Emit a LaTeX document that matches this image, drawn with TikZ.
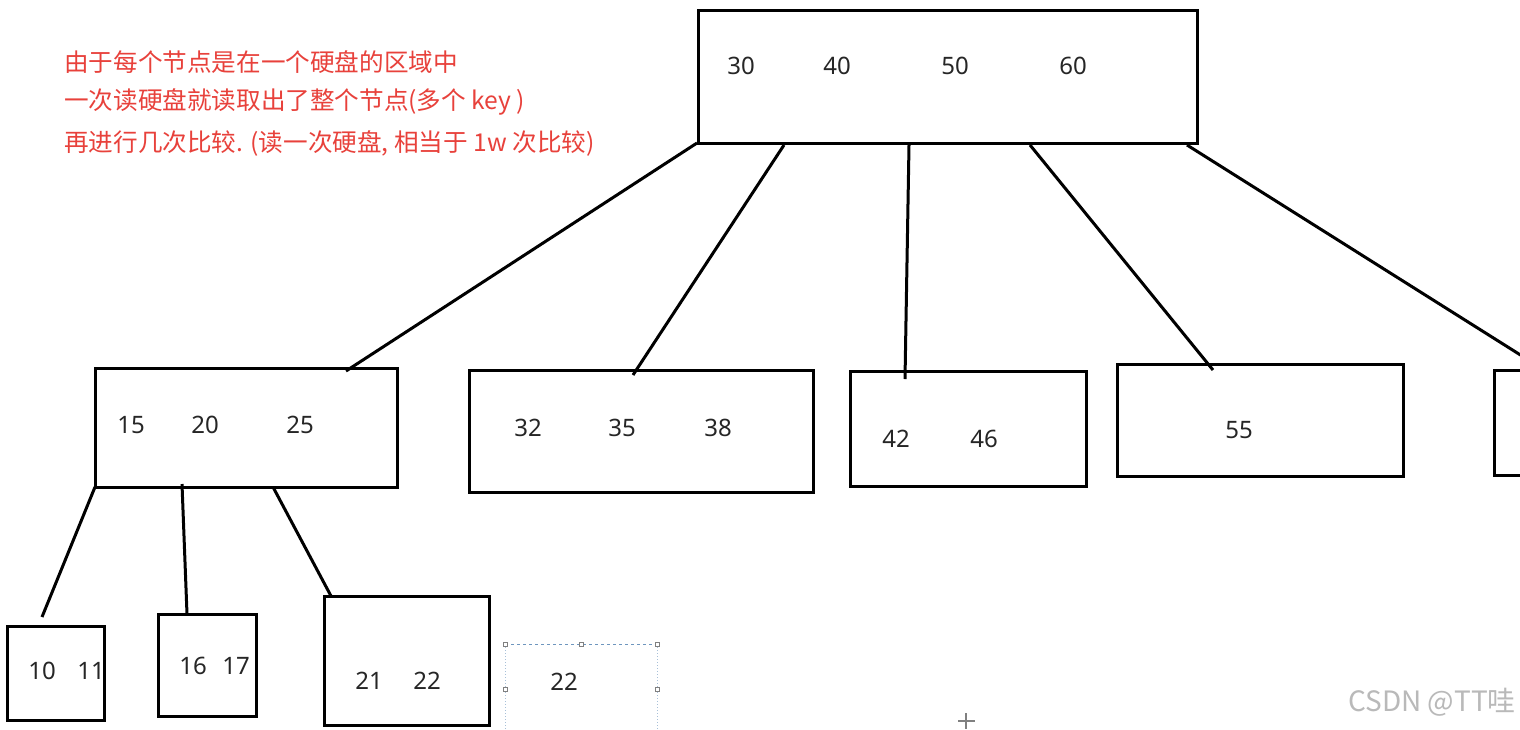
\documentclass[tikz,border=0pt]{standalone}
\usepackage{fontspec}
\setmainfont{Noto Sans}
\newfontfamily\cjk{Noto Sans CJK SC}
\definecolor{notered}{RGB}{232,65,59}
\definecolor{selblue}{RGB}{110,150,190}
\begin{document}
\begin{tikzpicture}[x=1pt,y=-1pt,
  box/.style={draw=black,line width=3pt,rectangle},
  conn/.style={draw=black,line width=3pt},
  num/.style={font=\fontsize{24}{24}\selectfont,text=black!85,inner sep=0pt},
  note/.style={font=\cjk\fontsize{24.6}{25}\selectfont,text=notered,anchor=west,inner sep=0pt},
  handle/.style={draw=gray,fill=white,line width=0.6pt,minimum size=4pt,inner sep=0pt,rectangle}]
\useasboundingbox[fill=white] (0,0) rectangle (1520,729);
\begin{scope}
\clip (0,0) rectangle (1520,729);
% notes
\node[note] (n1) at (64,62) {由于每个节点是在一个硬盘的区域中};
\node[note] (n2) at (64,102) {一次读硬盘就读取出了整个节点(多个 key )};
\node[note] (n3) at (64,143) {再进行几次比较. (读一次硬盘, 相当于 1w 次比较)};
% boxes
\draw[box] (698,10) rectangle (1197,143);
\draw[box] (95,368) rectangle (397,487);
\draw[box] (469,370) rectangle (813,492);
\draw[box] (850,371) rectangle (1086,486);
\draw[box] (1117,364) rectangle (1403,476);
\draw[box] (1494,370) rectangle (1540,475);
\draw[box] (7,626) rectangle (104,720);
\draw[box] (158,614) rectangle (256,716);
\draw[box] (324,596) rectangle (489,725);
% named connector endpoints
\coordinate (r1) at (697,143); \coordinate (c1) at (346,371);
\coordinate (r2) at (784,145); \coordinate (c2) at (633,375);
\coordinate (r3) at (909,145); \coordinate (c3) at (905,379);
\coordinate (r4) at (1030,145); \coordinate (c4) at (1213,370);
\coordinate (r5) at (1187,145); \coordinate (c5) at (1530,361);
\coordinate (b1) at (95,487); \coordinate (l1) at (42,617);
\coordinate (b2) at (182,484); \coordinate (l2) at (187,614);
\coordinate (b3) at (273,487); \coordinate (l3) at (331,596);
\draw[conn] (r1) -- (c1);
\draw[conn] (r2) -- (c2);
\draw[conn] (r3) -- (c3);
\draw[conn] (r4) -- (c4);
\draw[conn] (r5) -- (c5);
\draw[conn] (b1) -- (l1);
\draw[conn] (b2) -- (l2);
\draw[conn] (b3) -- (l3);
% numbers
\node[num] (k30) at (741,66) {30};
\node[num] (k40) at (837,66) {40};
\node[num] (k50) at (955,66) {50};
\node[num] (k60) at (1073,66) {60};
\node[num] (k15) at (131,425) {15};
\node[num] (k20) at (205,425) {20};
\node[num] (k25) at (300,425) {25};
\node[num] (k32) at (528,428) {32};
\node[num] (k35) at (622,428) {35};
\node[num] (k38) at (718,428) {38};
\node[num] (k42) at (896,439) {42};
\node[num] (k46) at (984,439) {46};
\node[num] (k55) at (1239,430) {55};
\node[num] (k10) at (42,671) {10};
\node[num] (k11) at (91,671) {11};
\node[num] (k16) at (193,666) {16};
\node[num] (k17) at (236,666) {17};
\node[num] (k21) at (369,681) {21};
\node[num] (k22) at (427,681) {22};
\node[num] (k22b) at (564,682) {22};
% selection box
\draw[selblue,line width=0.8pt,dashed] (505,644) -- (657,644);
\draw[selblue!60,line width=1pt,dotted] (505,644) -- (505,740);
\draw[selblue!60,line width=1pt,dotted] (657,644) -- (657,740);
\node[handle] (h1) at (505,644) {};
\node[handle] (h2) at (581,644) {};
\node[handle] (h3) at (657,644) {};
\node[handle] (h4) at (505,689) {};
\node[handle] (h5) at (657,689) {};
% cursor
\draw[gray,line width=1.2pt] (958,721) -- (975,721) (966,713) -- (966,729);
% watermark
\node[font=\fontsize{28}{28}\selectfont\cjk,text=gray!55,anchor=east,inner sep=0pt] (wm) at (1516,702) {CSDN @TT哇};
\end{scope}
\end{tikzpicture}
\end{document}
